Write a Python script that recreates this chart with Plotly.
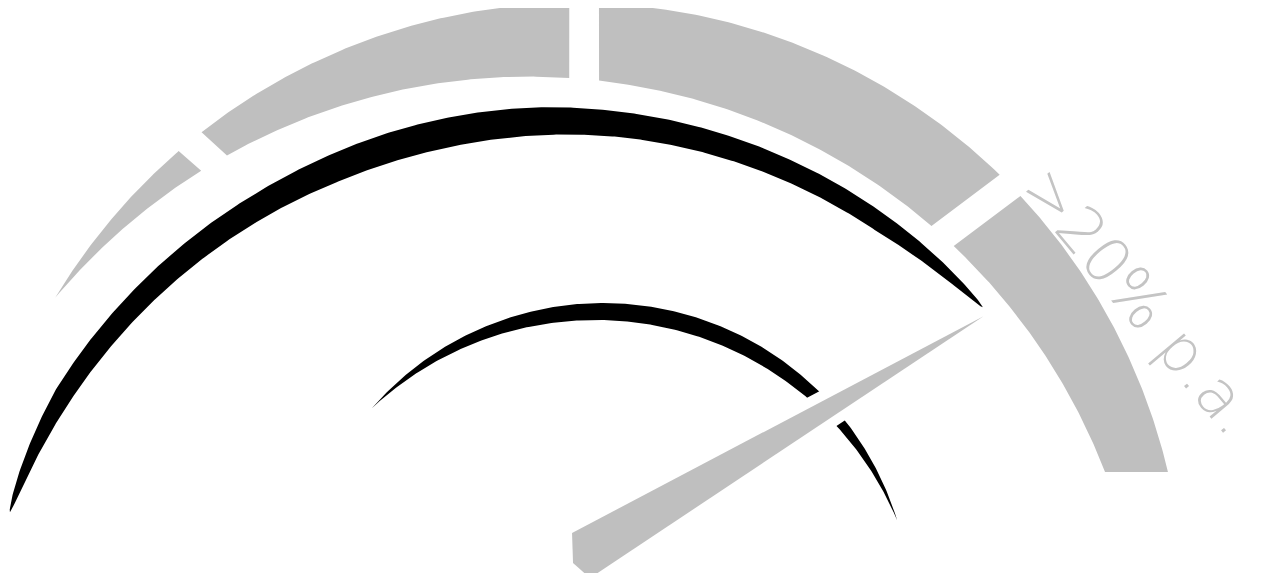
import numpy as np
import plotly.graph_objects as go

# dial data (0 = left end of the scale, 100 = right end)
band_edges = [0, 14.4, 44, 77, 100]
band_labels = ["", "", "", ">20% p.a."]
needle_value = 83.3

GRAY = "#bfbfbf"
W, H = 1264, 581
PAD = 8  # default body margin of the html page

# geometry of the dial, in pixels (y grows downwards)
OUT_C, OUT_R = (576.2, 610.8), 607.8      # outer edge of grey band
IN_C, IN_R = (528.8, 694.2), 617.6        # inner edge of grey band
BAND_FLOOR = 472                          # band is cut flat here
GAP_O, GAP_I = 1.4, 1.39                  # half gap, degrees
SKEW = [0.000777, 0.72035, 14.374]        # outer angle -> inner angle of a gap
NEEDLE_PIVOT = (582, 555)
NEEDLE_R = 502.7
NEEDLE_BASE = [(2.7, -24.0), (-11.8, 2.3), (-4.9, 23.9)]


def pts(c, r, deg):
    a = np.radians(deg)
    return c[0] + r * np.cos(a), c[1] - r * np.sin(a)


def ang(c, p):
    return np.degrees(np.arctan2(c[1] - p[1], p[0] - c[0]))


def cross(c1, r1, c2, r2):
    c1, c2 = np.array(c1), np.array(c2)
    d = np.linalg.norm(c2 - c1)
    a = (r1 ** 2 - r2 ** 2 + d ** 2) / (2 * d)
    h = np.sqrt(r1 ** 2 - a ** 2)
    u = (c2 - c1) / d
    p = c1 + a * u
    n = np.array([-u[1], u[0]])
    return p + h * n, p - h * n


def poly(fig, x, y, color):
    fig.add_trace(go.Scatter(x=list(x) + [x[0]], y=list(y) + [y[0]], mode="lines",
                             fill="toself", fillcolor=color, line=dict(width=0),
                             hoverinfo="skip", showlegend=False))


fig = go.Figure()

# ---- grey band ----
pinch = min(cross(OUT_C, OUT_R, IN_C, IN_R), key=lambda p: p[0])
o_start = ang(OUT_C, pinch)
i_start = ang(IN_C, pinch)
o_end = np.degrees(np.arcsin((OUT_C[1] - BAND_FLOOR) / OUT_R))
i_end = np.degrees(np.arcsin((IN_C[1] - BAND_FLOOR) / IN_R))


def val2ang(v):
    return o_start - (o_start - o_end) * v / 100.0


n_band = len(band_edges) - 1
for k in range(n_band):
    a0 = val2ang(band_edges[k])
    a1 = val2ang(band_edges[k + 1])
    if k == 0:
        oa0, ia0 = o_start, i_start
    else:
        oa0, ia0 = a0 - GAP_O, np.polyval(SKEW, a0) - GAP_I
    if k == n_band - 1:
        oa1, ia1 = o_end, i_end
    else:
        oa1, ia1 = a1 + GAP_O, np.polyval(SKEW, a1) + GAP_I
    ox, oy = pts(OUT_C, OUT_R, np.linspace(oa0, oa1, 120))
    ix, iy = pts(IN_C, IN_R, np.linspace(ia1, ia0, 120))
    poly(fig, np.r_[ox, ix], np.r_[oy, iy], GRAY)

# ---- big black stroke ----
BC, BR = (558, 702), 580
th = np.linspace(42.9, 160.9, 500)
t = np.clip((th - 95) / 30.0, 0, 1)
base = 30 - 7 * (0.5 - 0.5 * np.cos(np.pi * t))
wl = np.clip((160.9 - th) / 12.9, 0, 1) ** 0.6
wr = np.clip((th - 42.9) / 48.0, 0, 1) ** 0.6
w = base * wl * wr
ox, oy = pts(BC, BR + w / 2, th)
ix, iy = pts(BC, BR - w / 2, th[::-1])
poly(fig, np.r_[ox, ix], np.r_[oy, iy], "black")

# ---- small black crescent ----
SC1, SR1 = (603.3, 610.3), 307.3
SC2, SR2 = (595.4, 647.4), 327.4
pa, pb = sorted(cross(SC1, SR1, SC2, SR2), key=lambda p: p[0])
ox, oy = pts(SC1, SR1, np.linspace(ang(SC1, pa), ang(SC1, pb), 300))
ix, iy = pts(SC2, SR2, np.linspace(ang(SC2, pb), ang(SC2, pa), 300))
poly(fig, np.r_[ox, ix], np.r_[oy, iy], "black")

# ---- needle ----
tip = np.array(pts(OUT_C, NEEDLE_R, val2ang(needle_value)))
piv = np.array(NEEDLE_PIVOT)
u = (tip - piv) / np.linalg.norm(tip - piv)
n = np.array([-u[1], u[0]])
corners = [tip] + [piv + a * u + b * n for a, b in NEEDLE_BASE]
nx = [c[0] for c in corners]
ny = [c[1] for c in corners]
fig.add_trace(go.Scatter(x=nx + [nx[0]], y=ny + [ny[0]], mode="lines",
                         line=dict(color="white", width=20),
                         hoverinfo="skip", showlegend=False))
poly(fig, nx, ny, GRAY)

# ---- label of the last band ----
mid = (val2ang(band_edges[-2]) + o_end) / 2
lx, ly = pts(OUT_C, OUT_R + 36, mid)
fig.add_annotation(x=lx, y=ly, xref="x", yref="y", text=band_labels[-1],
                   showarrow=False, textangle=50,
                   font=dict(family="DejaVu Sans, Lato, sans-serif", size=62,
                             color="#c4c4c4", weight=200))

fig.update_layout(width=W - 2 * PAD, height=H - 2 * PAD,
                  margin=dict(l=0, r=0, t=0, b=0),
                  plot_bgcolor="white", paper_bgcolor="white",
                  xaxis=dict(range=[PAD, W - PAD], visible=False, fixedrange=True),
                  yaxis=dict(range=[H - PAD, PAD], visible=False, fixedrange=True))

fig.write_html("out.html")
